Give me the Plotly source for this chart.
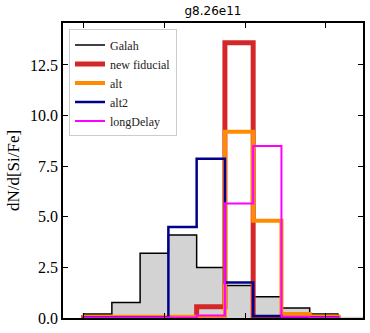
import numpy as np
import plotly.graph_objects as go

edges = [-0.2 + 0.07 * i for i in range(11)]

galah = [0.2, 0.76, 3.2, 4.1, 2.49, 1.6, 1.05, 0.5, 0.2, 0.06]
new_fiducial = [0.02, 0.02, 0.02, 0.02, 0.55, 13.6, 0.02, 0.02, 0.02]
alt = [0.06, 0.06, 0.06, 0.06, 0.06, 9.2, 4.8, 0.2, 0.08]
alt2 = [0.02, 0.02, 0.02, 4.5, 7.87, 1.75, 0.1, 0.02, 0.02]
long_delay = [0.02, 0.02, 0.02, 0.02, 0.12, 5.65, 8.5, 0.06, 0.02]

serif = "Liberation Serif"


def step(vals):
    e = edges[:len(vals) + 1]
    x = [e[0]] + list(e) + [e[-1]]
    y = [0] + list(vals) + [vals[-1], 0]
    return x, y


fig = go.Figure()

# galah filled histogram (fill over all bins, outline over first nine)
fx, fy = step(galah)
fig.add_trace(go.Scatter(x=fx, y=fy, mode='lines', line=dict(shape='hv', width=0),
                         fill='tozeroy', fillcolor='#d3d3d3', showlegend=False, hoverinfo='skip'))

series = [
    ("Galah", galah[:9], 'black', 1.5),
    ("new fiducial", new_fiducial, '#d62728', 5),
    ("alt", alt, '#ff8c00', 4),
    ("alt2", alt2, '#00008b', 2.5),
    ("longDelay", long_delay, '#ff00ff', 2),
]
for name, vals, col, w in series:
    x, y = step(vals)
    fig.add_trace(go.Scatter(x=x, y=y, mode='lines', name=name,
                             line=dict(shape='hv', color=col, width=w)))

fig.update_layout(
    width=370, height=333,
    margin=dict(l=63, r=7, t=23, b=15),
    plot_bgcolor='white', paper_bgcolor='white',
    title=dict(text="g8.26e11", xref='paper', x=0.5, xanchor='center', y=0.967, yanchor='middle',
               font=dict(family="DejaVu Sans", size=12, color='black')),
    legend=dict(x=0.02, y=0.978, xanchor='left', yanchor='top',
                bgcolor='rgba(255,255,255,0.8)', bordercolor='#cccccc', borderwidth=1,
                font=dict(family=serif, size=12, color='#222'),
                tracegroupgap=0, itemwidth=30),
)
fig.update_xaxes(range=[-0.251, 0.492], tickvals=[-0.2, 0, 0.2, 0.4], showticklabels=False,
                 ticks='inside', ticklen=5, tickcolor='black', showline=True, linecolor='black',
                 linewidth=1.5, mirror='ticks', showgrid=False, zeroline=False, automargin=False)
fig.update_yaxes(range=[0, 14.57], tickvals=[0, 2.5, 5, 7.5, 10, 12.5],
                 ticktext=["0.0", "2.5", "5.0", "7.5", "10.0", "12.5"],
                 ticks='inside', ticklen=5, tickcolor='black', showline=True, linecolor='black',
                 linewidth=1.5, mirror='ticks', showgrid=False, zeroline=False, automargin=False,
                 tickfont=dict(family=serif, size=16, color='black'),
                 title=dict(text="dN/d[Si/Fe]", font=dict(family=serif, size=17, color='black'), standoff=6))

fig.write_html("out.html", config={'displayModeBar': False},
               post_script="document.body.style.margin='0px';")
